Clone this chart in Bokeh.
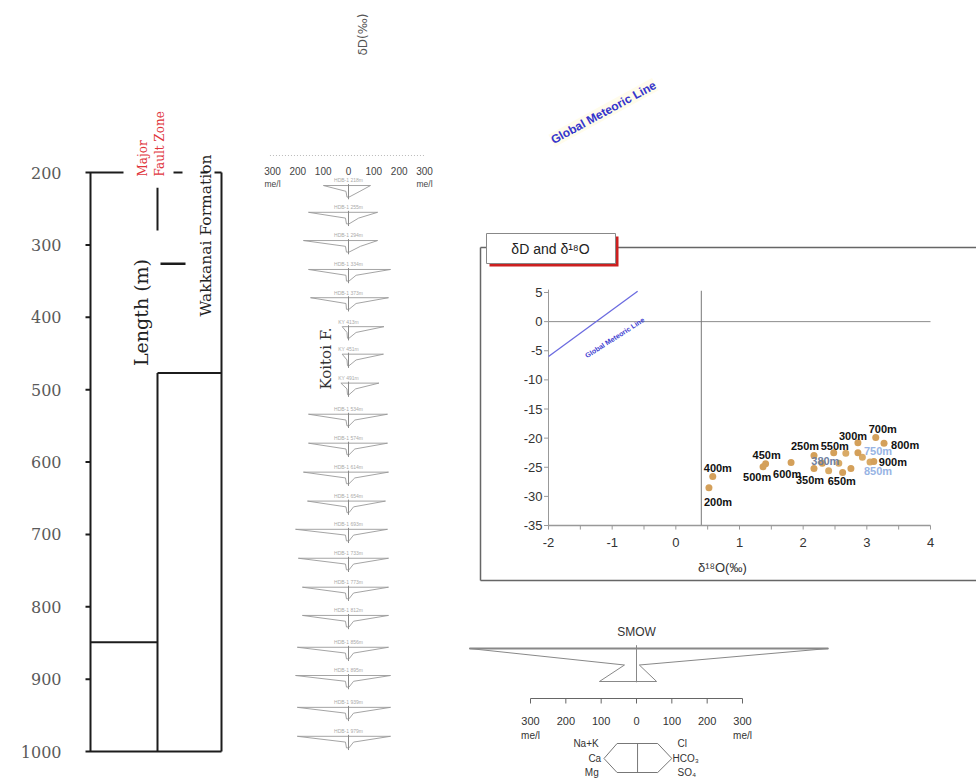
import math
from bokeh.plotting import figure
from bokeh.models import Range1d, ColumnDataSource
from bokeh.core.properties import value
from bokeh.embed import file_html
from bokeh.resources import INLINE

# ---------------- data ----------------
# depth column (m)
depth_ticks = [200, 300, 400, 500, 600, 700, 800, 900, 1000]
depth_tick_labels = ["200", "300", "400", "500", "600", "700", "800", "900", "1000"]
col_top = 200
col_bottom = 1000
fault_mark_depths = [221, 280]
fault_step_depth = 326
wakkanai_base_depth = 477
lower_unit_depth = 849

# Stiff diagrams along the borehole (meq/l)
sample_labels = ["HDB-1 218m", "HDB-1 255m", "HDB-1 294m", "HDB-1 334m", "HDB-1 373m",
                 "KY 413m", "KY 451m", "KY 491m", "HDB-1 534m", "HDB-1 574m",
                 "HDB-1 614m", "HDB-1 654m", "HDB-1 693m", "HDB-1 733m", "HDB-1 773m",
                 "HDB-1 812m", "HDB-1 856m", "HDB-1 895m", "HDB-1 939m", "HDB-1 979m"]
sample_depths = [218, 255, 294, 334, 373, 413, 451, 491, 534, 574,
                 614, 654, 693, 733, 773, 812, 856, 895, 939, 979]
na_k = [99, 158, 178, 158, 150, 25, 25, 30, 158, 158, 178, 162, 209, 198, 182, 182, 202, 209, 202, 202]
ca = [10, 12, 12, 10, 10, 6, 6, 6, 10, 10, 12, 10, 12, 12, 12, 12, 12, 12, 12, 12]
mg = [6, 8, 8, 8, 8, 4, 4, 4, 6, 6, 8, 6, 8, 8, 8, 8, 8, 8, 8, 8]
cl = [87, 115, 115, 166, 158, 140, 138, 120, 154, 154, 158, 146, 154, 158, 158, 158, 158, 166, 166, 166]
hco3 = [45, 40, 47, 30, 30, 30, 30, 28, 25, 25, 25, 20, 20, 20, 20, 20, 20, 20, 20, 20]
so4 = [2, 2, 2, 2, 2, 2, 2, 2, 2, 2, 2, 2, 2, 2, 2, 2, 2, 2, 2, 2]
stiff_ticks = [-300, -200, -100, 0, 100, 200, 300]
stiff_tick_labels = ["300", "200", "100", "0", "100", "200", "300"]
unit_label = "me/l"

# SMOW reference stiff diagram (meq/l)
smow_na_k, smow_ca, smow_mg = 473, 34, 105
smow_cl, smow_hco3, smow_so4 = 543, 8, 57
cation_names = ["Na+K", "Ca", "Mg"]
anion_names = ["Cl", "HCO₃", "SO₄"]

# isotopes
iso_labels = ["200m", "400m", "450m", "500m", "600m", "250m", "550m", "300m",
              "700m", "800m", "900m", "350m", "650m", "380m", "750m", "850m"]
iso_d18o = [0.52, 0.58, 1.41, 1.37, 1.81, 2.17, 2.48, 2.86, 3.14, 3.27, 3.11, 2.17, 2.62, 2.30, 2.86, 2.75]
iso_dD = [-28.5, -26.6, -24.4, -24.9, -24.2, -23.0, -22.5, -20.8, -19.9, -20.9, -24.0, -25.2, -25.9, -24.3, -22.5, -25.2]
extra_d18o = [2.56, 2.67, 2.93, 2.40, 3.05]
extra_dD = [-24.3, -22.6, -23.3, -25.6, -24.1]
gml_d18o = [-2.0, -0.6]
gml_dD = [-6.0, 5.2]
smow_d18o_line = 0.4
x_ticks = [-2, -1, 0, 1, 2, 3, 4]
y_ticks = [5, 0, -5, -10, -15, -20, -25, -30, -35]

# label styling (pixel offsets)
lab_dx = [-5, -9, -13, -20, -18, -23, -13, -19, -7, 7, 5, -18, -15, -11, 6, 13]
lab_dy = [14, -9, -9, 10, 11, -10, -7, -7, -9, 2, 1, 12, 9, -2, -2, 3]
lab_col = ["#111"] * 13 + ["#6f7f9f", "#98b4e4", "#98b4e4"]

# ---------------- figure ----------------
W, H = 976, 780
SERIF = value("DejaVu Serif")
SANS = value("Liberation Sans")


def rng_x(v0, p0, v1, p1):
    s = (v1 - v0) / (p1 - p0)
    return Range1d(start=v0 - p0 * s, end=v0 + (W - p0) * s)


def rng_y(v0, p0, v1, p1):
    s = (v1 - v0) / (p1 - p0)
    return Range1d(start=v0 + (H - p0) * s, end=v0 - p0 * s)


p = figure(width=W, height=H, x_range=Range1d(0, W), y_range=Range1d(H, 0),
           output_backend="svg", toolbar_location=None, min_border=0,
           x_axis_location=None, y_axis_location=None)
p.grid.visible = False
p.outline_line_color = None
p.background_fill_color = "white"

p.extra_x_ranges = {"d18o": rng_x(-2, 548, 4, 930),
                    "meq": rng_x(0, 348, 300, 424),
                    "smow": rng_x(0, 636, 300, 742)}
p.extra_y_ranges = {"depth": rng_y(200, 172, 1000, 751),
                    "dD": rng_y(5, 292, -35, 525),
                    "srow": rng_y(0, 648, 2, 681)}

# ---------- left: geological column ----------
XA, XM, XR = 90, 157, 221
seg = dict(x0=[], y0=[], x1=[], y1=[])


def add(x0, y0, x1, y1):
    seg["x0"].append(x0); seg["y0"].append(y0); seg["x1"].append(x1); seg["y1"].append(y1)


add(XA, col_top, XA, col_bottom)
add(XA - 5, col_top, XA + 33, col_top)
add(XA + 83, col_top, XA + 92, col_top)
add(XA + 110, col_top, XA + 117, col_top)
add(XR - 7, col_top, XR, col_top)
add(XM, fault_mark_depths[0], XM, fault_mark_depths[1])
add(XR, col_top, XR, col_bottom)
add(XM, wakkanai_base_depth, XR, wakkanai_base_depth)
add(XM, wakkanai_base_depth, XM, col_bottom)
add(XA, lower_unit_depth, XM, lower_unit_depth)
add(XA - 5, col_bottom, XR, col_bottom)
for d in depth_ticks[1:-1]:
    add(XA - 5, d, XA, d)
p.segment(x0="x0", y0="y0", x1="x1", y1="y1", source=ColumnDataSource(seg),
          y_range_name="depth", line_color="#1c1c1c", line_width=2)
p.segment(x0=[XM + 3], y0=[fault_step_depth], x1=[XM + 28], y1=[fault_step_depth],
          y_range_name="depth", line_color="#1c1c1c", line_width=2.5)

p.text(x=[XA - 29] * len(depth_ticks), y=depth_ticks, text=depth_tick_labels,
       y_range_name="depth", text_align="right", text_baseline="middle",
       text_font=SERIF, text_font_size="16px", text_color="#5a5a5a")

p.text(x=[140], y=[312], text=["Length (m)"], angle=math.pi / 2, text_align="center",
       text_baseline="middle", text_font=SERIF, text_font_size="19px", text_color="#222")
p.text(x=[205], y=[235], text=["Wakkanai Formation"], angle=math.pi / 2, text_align="center",
       text_baseline="middle", text_font=SERIF, text_font_size="15.5px", text_color="#222")
p.text(x=[142, 159], y=[176, 176], text=["Major", "Fault Zone"], angle=math.pi / 2,
       text_align="left", text_baseline="middle", text_font=SERIF,
       text_font_size="12px", text_color="#e0343c")
p.text(x=[325], y=[358], text=["Koitoi F."], angle=math.pi / 2, text_align="center",
       text_baseline="middle", text_font=SERIF, text_font_size="15px", text_color="#333")
p.text(x=[362], y=[34], text=["δD(‰)"], angle=math.pi / 2, text_align="center",
       text_baseline="middle", text_font=value("DejaVu Sans"), text_font_size="12px",
       text_color="#555")

# ---------- middle: Stiff diagrams ----------
ROW = 8.0  # metres per stiff row
xs, ys = [], []
for i, d in enumerate(sample_depths):
    xs.append([-na_k[i], -ca[i], -mg[i], so4[i], hco3[i], cl[i]])
    ys.append([d, d + ROW, d + 2 * ROW, d + 2 * ROW, d + ROW, d])
p.patches(xs=xs, ys=ys, x_range_name="meq", y_range_name="depth",
          fill_color=None, line_color="#9a9a9a", line_width=0.9)
p.segment(x0=[0] * len(sample_depths), y0=[d - 2 for d in sample_depths],
          x1=[0] * len(sample_depths), y1=[d + 2 * ROW + 3 for d in sample_depths],
          x_range_name="meq", y_range_name="depth", line_color="#8a8a8a", line_width=1)
p.text(x=[0] * len(sample_depths), y=[d - 7 for d in sample_depths], text=sample_labels,
       x_range_name="meq", y_range_name="depth", text_align="center",
       text_baseline="middle", text_font=SANS, text_font_size="5px", text_color="#aaaaaa")
# header scale
p.segment(x0=[-310], y0=[155], x1=[300], y1=[155], x_range_name="meq",
          line_color="#bbbbbb", line_width=1, line_dash="1 2")
p.text(x=stiff_ticks, y=[170] * len(stiff_ticks), text=stiff_tick_labels,
       x_range_name="meq", text_align="center", text_baseline="middle",
       text_font=SANS, text_font_size="10px", text_color="#444")
p.text(x=[-300, 300], y=[183, 183], text=[unit_label, unit_label], x_range_name="meq",
       text_align="center", text_baseline="middle", text_font=SANS,
       text_font_size="8.5px", text_color="#444")

# ---------- SMOW reference ----------
p.patch(x=[-smow_na_k, -smow_ca, -smow_mg, smow_so4, smow_hco3, smow_cl],
        y=[0, 1, 2, 2, 1, 0], x_range_name="smow", y_range_name="srow",
        fill_color=None, line_color="#888888", line_width=1)
p.segment(x0=[-smow_na_k], y0=[0], x1=[smow_cl], y1=[0], x_range_name="smow",
          y_range_name="srow", line_color="#888888", line_width=2)
p.segment(x0=[0], y0=[-0.2], x1=[0], y1=[2.05], x_range_name="smow", y_range_name="srow",
          line_color="#888888", line_width=1)
p.text(x=[0], y=[-1.0], text=["SMOW"], x_range_name="smow", y_range_name="srow",
       text_align="center", text_baseline="middle", text_font=SANS,
       text_font_size="12px", text_color="#333")
# scale below
p.segment(x0=[-300], y0=[698], x1=[300], y1=[698], x_range_name="smow",
          line_color="#666", line_width=1)
p.segment(x0=stiff_ticks, y0=[698] * 7, x1=stiff_ticks, y1=[703] * 7,
          x_range_name="smow", line_color="#666", line_width=1)
p.text(x=stiff_ticks, y=[720] * 7, text=stiff_tick_labels, x_range_name="smow",
       text_align="center", text_baseline="middle", text_font=SANS,
       text_font_size="11px", text_color="#333")
p.text(x=[-300, 300], y=[735, 735], text=[unit_label, unit_label], x_range_name="smow",
       text_align="center", text_baseline="middle", text_font=SANS,
       text_font_size="10px", text_color="#333")
# hexagon key
hex_y = [743, 758, 772]
p.patch(x=[-55, -92, -55, 60, 100, 60], y=[hex_y[0], hex_y[1], hex_y[2], hex_y[2], hex_y[1], hex_y[0]],
        x_range_name="smow", fill_color=None, line_color="#777", line_width=1)
p.segment(x0=[3], y0=[hex_y[0]], x1=[3], y1=[hex_y[2]], x_range_name="smow",
          line_color="#777", line_width=1)
p.text(x=[-107, -100, -107], y=hex_y, text=cation_names, x_range_name="smow",
       text_align="right", text_baseline="middle", text_font=SANS,
       text_font_size="10px", text_color="#333")
p.text(x=[116, 102, 116], y=hex_y, text=anion_names, x_range_name="smow",
       text_align="left", text_baseline="middle", text_font=SANS,
       text_font_size="10px", text_color="#333")

# ---------- right: isotope panel ----------
FL, FT, FB = 480, 247, 580
p.segment(x0=[FL, FL, FL, 615], y0=[FT, FB, FT, FT], x1=[FL, W, 486, W], y1=[FB, FB, FT, FT],
          line_color="#666", line_width=1.5)
# title tab with red shadow
p.quad(left=[489], right=[618], top=[236], bottom=[266], fill_color="#cc1f1f", line_color=None)
p.quad(left=[486], right=[615], top=[233], bottom=[263], fill_color="white",
       line_color="#888", line_width=1)
p.text(x=[550], y=[248], text=["δD and δ¹⁸O"], text_align="center", text_baseline="middle",
       text_font=SANS, text_font_size="14px", text_color="#222")

iso_kw = dict(x_range_name="d18o", y_range_name="dD")
p.segment(x0=[-2], y0=[0], x1=[4], y1=[0], line_color="#8c8c8c", line_width=1, **iso_kw)
p.segment(x0=[smow_d18o_line], y0=[-35], x1=[smow_d18o_line], y1=[5.3],
          line_color="#777", line_width=1, **iso_kw)
p.segment(x0=[-2], y0=[-35], x1=[-2], y1=[5.5], line_color="#999", line_width=1, **iso_kw)
p.segment(x0=[-2], y0=[-35], x1=[4], y1=[-35], line_color="#999", line_width=1.5, **iso_kw)
p.segment(x0=[-2] * len(y_ticks), y0=y_ticks, x1=[-2.07] * len(y_ticks), y1=y_ticks,
          line_color="#999", line_width=1, **iso_kw)
xt = [t / 2 for t in range(-4, 9)]
p.segment(x0=xt, y0=[-35] * len(xt), x1=xt, y1=[-35.7] * len(xt),
          line_color="#999", line_width=1, **iso_kw)
p.text(x=[-2] * len(y_ticks), y=y_ticks, text=[str(t) for t in y_ticks], x_offset=-6,
       text_align="right", text_baseline="middle", text_font=SANS,
       text_font_size="13px", text_color="#333", **iso_kw)
p.text(x=x_ticks, y=[-35] * len(x_ticks), text=[str(t) for t in x_ticks], y_offset=17,
       text_align="center", text_baseline="middle", text_font=SANS,
       text_font_size="13px", text_color="#333", **iso_kw)
p.text(x=[0.73], y=[-35], text=["δ¹⁸O(‰)"], y_offset=42, text_align="center",
       text_baseline="middle", text_font=SANS, text_font_size="13px",
       text_color="#333", **iso_kw)

p.line(x=gml_d18o, y=gml_dD, line_color="#6b6be0", line_width=1.3, **iso_kw)
p.text(x=[-0.96], y=[-2.75], text=["Global Meteoric Line"], angle=0.57,
       text_align="center", text_baseline="middle", text_font=SANS,
       text_font_style="bold", text_font_size="7px", text_color="#3b3bd0", **iso_kw)
p.text(x=[603], y=[112], text=["Global Meteoric Line"], angle=0.5,
       text_align="center", text_baseline="middle", text_font=SANS,
       text_font_style="bold", text_font_size="12px", text_color="#3535cc",
       background_fill_color="#fffbe6", background_fill_alpha=0.8)

p.scatter(x=extra_d18o, y=extra_dD, size=7, fill_color="#d9aa66", line_color=None, **iso_kw)
src = ColumnDataSource(dict(x=iso_d18o, y=iso_dD, t=iso_labels, dx=lab_dx, dy=lab_dy, c=lab_col))
p.scatter(x="x", y="y", source=src, size=7, fill_color="#d4a05a", line_color=None, **iso_kw)
p.text(x="x", y="y", text="t", x_offset="dx", y_offset="dy", text_color="c", source=src,
       text_align="left", text_baseline="middle", text_font=SANS, text_font_style="bold",
       text_font_size="11px", **iso_kw)

open("out.html", "w").write(file_html(p, INLINE))
